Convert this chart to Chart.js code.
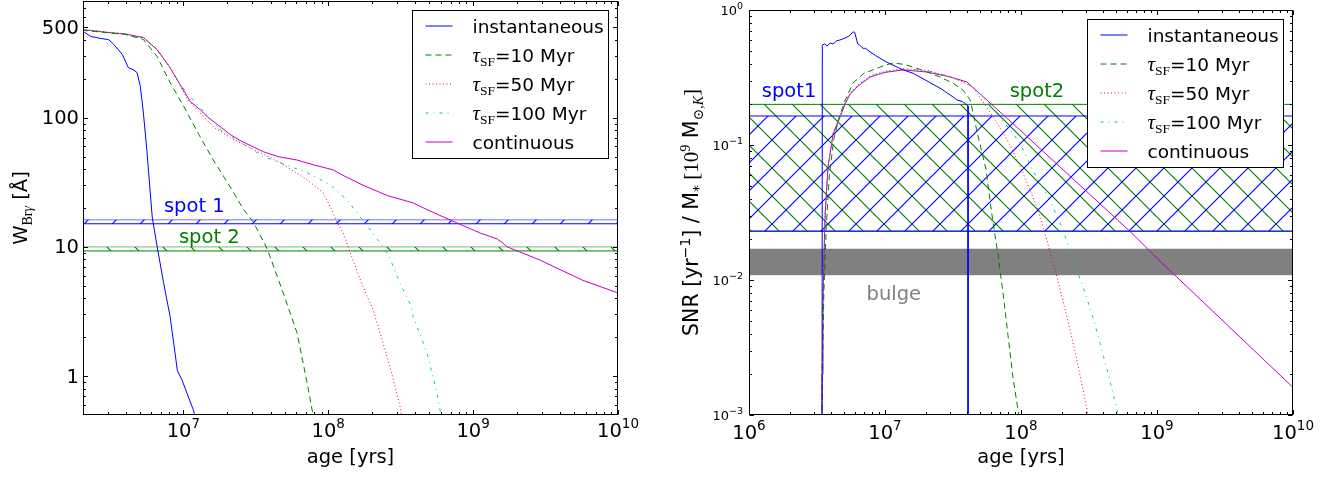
<!DOCTYPE html>
<html>
<head>
<meta charset="utf-8">
<script src="https://cdn.jsdelivr.net/npm/chart.js@4.4.0/dist/chart.umd.min.js"></script>
<style>
  body { margin: 0; background: #fff; width: 1338px; height: 479px; overflow: hidden; position: relative; }
  canvas { position: absolute; top: 0; }
</style>
</head>
<body>
<canvas id="left" width="660" height="479" style="left:0"></canvas>
<canvas id="right" width="678" height="479" style="left:660px"></canvas>
<script>
// ---------- left panel: W_Brgamma [A] vs age ----------
const instAgeW = [2.0e6, 2.3e6, 2.7e6, 3.05e6, 3.3e6, 3.56e6, 3.8e6, 4.17e6, 4.5e6, 4.8e6, 5.05e6, 5.3e6, 5.6e6, 6.1e6, 6.6e6, 7.3e6, 8.1e6, 9.1e6, 9.8e6, 1.17e7, 1.25e7];
const instW    = [470, 425, 410, 402, 370, 336, 307, 244, 236, 223, 174, 109, 56, 17, 10, 5.3, 2.9, 1.1, 0.93, 0.55, 0.42];
const tau10AgeW = [2.0e6, 3e6, 4e6, 5.3e6, 6.6e6, 8.1e6, 1.0e7, 1.28e7, 1.61e7, 2.11e7, 2.6e7, 3.04e7, 3.8e7, 4.89e7, 6.1e7, 7.16e7, 8.0e7];
const tau10W    = [475, 455, 440, 403, 297, 187, 124, 74, 47, 29, 19.5, 15.6, 9.6, 4.4, 2.15, 0.88, 0.45];
const tau50AgeW = [2.0e6, 3e6, 4e6, 5.3e6, 6.6e6, 8.1e6, 9.5e6, 1.07e7, 1.61e7, 2.11e7, 2.76e7, 4.67e7, 7.16e7, 9.24e7, 1.08e8, 1.15e8, 1.27e8, 1.42e8, 1.74e8, 2.04e8, 2.28e8, 2.68e8, 3.14e8, 3.25e8];
const tau50W    = [481, 460, 445, 417, 336, 244, 178, 138, 85, 70, 60, 44.8, 33, 26.2, 18.4, 15.6, 12.8, 9.0, 4.9, 3.25, 2.15, 1.17, 0.575, 0.45];
const tau100AgeW = [2.0e6, 3e6, 4e6, 5.3e6, 6.6e6, 8.1e6, 9.5e6, 1.12e7, 1.8e7, 3.57e7, 7.16e7, 1.03e8, 1.35e8, 1.66e8, 2.18e8, 2.45e8, 2.68e8, 3.14e8, 3.68e8, 3.86e8, 4.82e8, 5.63e8, 6.1e8];
const tau100W    = [481, 460, 445, 417, 336, 244, 180, 145, 80.7, 50, 37.5, 30.3, 23.1, 17.1, 11.5, 9.6, 8.0, 5.2, 3.6, 2.9, 1.5, 0.74, 0.45];
const contAgeW = [2.0e6, 3e6, 4e6, 5.3e6, 6.6e6, 8.1e6, 9.5e6, 1.12e7, 1.31e7, 1.46e7, 2.11e7, 2.5e7, 3.57e7, 4.5e7, 6.1e7, 8e7, 1.08e8, 1.25e8, 1.74e8, 2.55e8, 3.86e8, 4.82e8, 6.9e8, 1.12e9, 1.47e9, 1.6e9, 1.72e9, 2.9e9, 5.74e9, 1e10];
const contW    = [481, 456, 443, 417, 336, 244, 180, 133, 115, 102, 74, 66, 54.5, 50, 47, 43, 39.5, 36, 30, 25, 21.9, 19.4, 16.2, 12.8, 11.5, 10.7, 10, 7.9, 5.5, 4.4];
const spot1W = [15.1, 16.2];
const spot2W = [9.3, 10.0];
const wTicks = [1, 10, 100, 500];
const wTickLabels = ['1', '10', '100', '500'];
const ageTicksW = [1e7, 1e8, 1e9, 1e10];
const ageExpW = ['7', '8', '9', '10'];

// ---------- right panel: SNR per unit mass vs age ----------
const instAgeS = [3.44e6, 3.46e6, 3.6e6, 3.75e6, 3.95e6, 4.15e6, 4.4e6, 4.67e6, 4.9e6, 5.26e6, 5.53e6, 5.82e6, 6.0e6, 6.3e6, 6.5e6, 6.9e6, 7.2e6, 7.76e6, 8.5e6, 1.035e7, 1.36e7, 1.61e7, 2.14e7, 2.6e7, 3.16e7, 3.39e7, 3.7e7, 4.08e7, 4.08e7];
const instS    = [1e-4, 0.55, 0.56, 0.54, 0.57, 0.56, 0.59, 0.60, 0.61, 0.63, 0.65, 0.69, 0.68, 0.56, 0.55, 0.52, 0.52, 0.49, 0.46, 0.41, 0.36, 0.34, 0.29, 0.26, 0.227, 0.215, 0.21, 0.195, 1e-4];
const tau10AgeS = [3.40e6, 3.46e6, 3.55e6, 3.7e6, 3.9e6, 4.2e6, 4.6e6, 5.1e6, 5.82e6, 7.0e6, 8.16e6, 1.0e7, 1.146e7, 1.4e7, 1.61e7, 2.0e7, 2.54e7, 3.2e7, 3.75e7, 4.22e7, 4.44e7, 4.8e7, 5.53e7, 6.13e7, 6.78e7, 7.38e7, 8.02e7, 8.73e7, 9.5e7, 1.02e8];
const tau10S    = [1e-4, 0.002, 0.008, 0.025, 0.06, 0.11, 0.16, 0.215, 0.288, 0.34, 0.36, 0.39, 0.405, 0.395, 0.378, 0.35, 0.319, 0.285, 0.255, 0.216, 0.173, 0.12, 0.066, 0.0298, 0.0153, 0.008, 0.0039, 0.0019, 0.00109, 0.0007];
const tau50AgeS = [3.40e6, 3.45e6, 3.5e6, 3.62e6, 3.81e6, 4.15e6, 4.67e6, 5.08e6, 5.5e6, 6.22e6, 7.76e6, 1.0e7, 1.36e7, 2.04e7, 3.0e7, 3.8e7, 4.4e7, 5.0e7, 5.9e7, 7.0e7, 8.3e7, 1.035e8, 1.31e8, 1.55e8, 1.84e8, 2.18e8, 2.58e8, 3.06e8, 3.3e8];
const tau50S    = [1e-4, 0.002, 0.007, 0.029, 0.069, 0.122, 0.165, 0.205, 0.24, 0.275, 0.325, 0.352, 0.368, 0.357, 0.32, 0.29, 0.27, 0.225, 0.175, 0.135, 0.1, 0.062, 0.0347, 0.0198, 0.0105, 0.0053, 0.00255, 0.00109, 0.0007];
const tau100AgeS = [3.40e6, 3.45e6, 3.5e6, 3.62e6, 3.81e6, 4.15e6, 4.67e6, 5.08e6, 5.5e6, 6.22e6, 7.76e6, 1.0e7, 1.36e7, 2.04e7, 3.0e7, 4.0e7, 4.8e7, 5.6e7, 7.0e7, 8.3e7, 9.84e7, 1.22e8, 1.63e8, 2.04e8, 2.41e8, 2.86e8, 3.38e8, 3.81e8, 4.36e8, 5.08e8, 5.5e8];
const tau100S    = [1e-4, 0.002, 0.007, 0.029, 0.069, 0.121, 0.163, 0.203, 0.238, 0.272, 0.322, 0.348, 0.364, 0.354, 0.322, 0.287, 0.25, 0.21, 0.16, 0.13, 0.103, 0.065, 0.039, 0.0235, 0.0141, 0.0089, 0.0053, 0.0034, 0.00205, 0.00109, 0.0007];
const contAgeS = [3.40e6, 3.45e6, 3.5e6, 3.62e6, 3.81e6, 4.15e6, 4.67e6, 5.08e6, 5.5e6, 6.22e6, 7.76e6, 1.0e7, 1.36e7, 2.04e7, 3.0e7, 4.0e7, 1e8, 6.3e8, 1e9, 1e10];
const contS    = [1e-4, 0.002, 0.007, 0.029, 0.069, 0.12, 0.161, 0.2, 0.235, 0.269, 0.319, 0.345, 0.36, 0.347, 0.32, 0.293, 0.127, 0.023, 0.0145, 0.0016];
const spot1S = [0.023, 0.164];
const spot2S = [0.023, 0.2];
const bulgeS = [0.0109, 0.017];
const snrTicks = [1e-3, 1e-2, 1e-1, 1];
const snrExp = ['\u22123', '\u22122', '\u22121', '0'];
const ageTicksS = [1e6, 1e7, 1e8, 1e9, 1e10];
const ageExpS = ['6', '7', '8', '9', '10'];

// ---------- series look ----------
const seriesNames = ['instantaneous', 'τSF=10 Myr', 'τSF=50 Myr', 'τSF=100 Myr', 'continuous'];
const tauValues = [null, 10, 50, 100, null];
const COLORS = ['rgb(0,0,255)', 'rgb(0,128,0)', 'rgb(255,0,0)', 'rgb(0,191,191)', 'rgb(191,0,191)'];
const DASHES = [[], [6, 4], [1, 2.5], [3, 5, 1, 5], []];
const BLUE = 'rgb(0,0,255)', GREEN = 'rgb(0,128,0)', GRAY = 'rgb(128,128,128)';

const SANS = '"DejaVu Sans", sans-serif';
const SERIF = '"Liberation Serif", "DejaVu Serif", serif';
const F = (px, fam = SANS, style = '') => `${style} ${px}px ${fam}`.trim();

const pts = (ages, vals) => ages.map((a, i) => ({ x: a, y: vals[i] }));

function hatch(ctx, color, dir) {
  const s = 28;
  const c = document.createElement('canvas');
  c.width = c.height = s;
  const g = c.getContext('2d');
  g.strokeStyle = color;
  g.lineWidth = 1.15;
  g.beginPath();
  if (dir === '/') {
    g.moveTo(-2, s + 2); g.lineTo(s + 2, -2);
    g.moveTo(-2, 2); g.lineTo(2, -2);
    g.moveTo(s - 2, s + 2); g.lineTo(s + 2, s - 2);
  } else {
    g.moveTo(-2, -2); g.lineTo(s + 2, s + 2);
    g.moveTo(s - 2, -2); g.lineTo(s + 2, 2);
    g.moveTo(-2, s - 2); g.lineTo(2, s + 2);
  }
  g.stroke();
  return ctx.createPattern(c, 'repeat');
}

// band = top line filled down to bottom line
function band(range, edgeTop, edgeBot, bg) {
  const base = { borderWidth: 1, pointRadius: 0, tension: 0 };
  return [
    { ...base, data: [{ x: 1e5, y: range[1] }, { x: 1e11, y: range[1] }], borderColor: edgeTop, backgroundColor: bg, fill: '+1' },
    { ...base, data: [{ x: 1e5, y: range[0] }, { x: 1e11, y: range[0] }], borderColor: edgeBot, fill: false }
  ];
}

function curves(sets) {
  return sets.map((d, i) => ({
    label: seriesNames[i],
    data: pts(d[0], d[1]),
    borderColor: COLORS[i],
    borderDash: DASHES[i],
    borderWidth: 1,
    pointRadius: 0,
    fill: false,
    tension: 0
  }));
}

function drawRich(ctx, parts, x, y, align, color) {
  let w = 0;
  parts.forEach(p => { ctx.font = p.f; w += ctx.measureText(p.t).width; });
  let cx = align === 'center' ? x - w / 2 : align === 'right' ? x - w : x;
  ctx.textAlign = 'left';
  ctx.textBaseline = 'alphabetic';
  parts.forEach(p => {
    ctx.font = p.f;
    ctx.fillStyle = p.c || color || '#000';
    ctx.fillText(p.t, cx, y + (p.dy || 0));
    cx += ctx.measureText(p.t).width;
  });
}

function legendParts(i) {
  if (tauValues[i] == null) return [{ t: seriesNames[i], f: F(18.5) }];
  return [
    { t: 'τ', f: F(21, SERIF, 'italic') },
    { t: 'SF', f: F(13.5, SERIF), dy: 4 },
    { t: '=' + tauValues[i] + ' Myr', f: F(18.5) }
  ];
}

function logMinors(min, max) {
  const res = [];
  for (let d = Math.floor(Math.log10(min)); d <= Math.ceil(Math.log10(max)); d++) {
    for (let k = 2; k <= 9; k++) {
      const v = k * Math.pow(10, d);
      if (v > min && v < max) res.push(v);
    }
  }
  return res;
}

function makeDecor(cfg) {
  return {
    id: 'decor',
    afterDatasetsDraw(chart) {
      const { ctx, chartArea: ca, scales: { x, y } } = chart;
      ctx.save();

      // legend box
      const bw = 196, bh = 148;
      const bl = ca.right - 9.5 - bw, bt = ca.top + 9.5;
      ctx.fillStyle = '#fff';
      ctx.fillRect(bl, bt, bw, bh);
      ctx.strokeStyle = '#000';
      ctx.lineWidth = 1;
      ctx.strokeRect(bl, bt, bw, bh);
      seriesNames.forEach((n, i) => {
        const ly = bt + 15.5 + 29 * i;
        ctx.beginPath();
        ctx.strokeStyle = COLORS[i];
        ctx.setLineDash(DASHES[i]);
        ctx.moveTo(bl + 13, ly);
        ctx.lineTo(bl + 40, ly);
        ctx.stroke();
        ctx.setLineDash([]);
        drawRich(ctx, legendParts(i), bl + 60, ly + 6.5, 'left', '#000');
      });

      // text labels on the bands
      cfg.texts.forEach(tx => {
        drawRich(ctx, [{ t: tx.t, f: F(19.5) }], x.getPixelForValue(tx.x), y.getPixelForValue(tx.y), 'center', tx.c);
      });

      // frame
      const L = Math.round(ca.left) + 0.5, R = Math.round(ca.right) - 0.5;
      const T = Math.round(ca.top) + 0.5, B = Math.round(ca.bottom) - 0.5;
      ctx.strokeStyle = '#000';
      ctx.lineWidth = 1;
      ctx.strokeRect(L, T, R - L, B - T);

      // inward ticks on all four sides
      ctx.beginPath();
      const xt = (vals, len) => vals.forEach(v => {
        const px = Math.round(x.getPixelForValue(v)) + 0.5;
        ctx.moveTo(px, B); ctx.lineTo(px, B - len);
        ctx.moveTo(px, T); ctx.lineTo(px, T + len);
      });
      const yt = (vals, len) => vals.forEach(v => {
        const py = Math.round(y.getPixelForValue(v)) + 0.5;
        ctx.moveTo(L, py); ctx.lineTo(L + len, py);
        ctx.moveTo(R, py); ctx.lineTo(R - len, py);
      });
      xt(cfg.xMajor, 4.5); xt(logMinors(x.min, x.max), 2.5);
      yt(cfg.yMajor, 4.5); yt(logMinors(y.min, y.max), 2.5);
      ctx.stroke();

      // tick labels
      cfg.xMajor.forEach((v, i) => {
        drawRich(ctx, cfg.xLabels[i], x.getPixelForValue(v), cfg.xLabelY, 'center', '#000');
      });
      cfg.yMajor.forEach((v, i) => {
        drawRich(ctx, cfg.yLabels[i], cfg.yLabelX, y.getPixelForValue(v) + cfg.yLabelDy, 'right', '#000');
      });

      // axis titles
      drawRich(ctx, [{ t: 'age [yrs]', f: F(19.5) }], (ca.left + ca.right) / 2, 463, 'center', '#000');
      ctx.save();
      ctx.translate(cfg.yTitleX, (ca.top + ca.bottom) / 2);
      ctx.rotate(-Math.PI / 2);
      drawRich(ctx, cfg.yTitle, 0, 0, 'center', '#000');
      ctx.restore();

      ctx.restore();
    }
  };
}

function makeChart(id, datasets, lim, pad, yAxisW, decorCfg) {
  return new Chart(document.getElementById(id), {
    type: 'line',
    data: { datasets },
    options: {
      responsive: false,
      animation: false,
      devicePixelRatio: 1,
      layout: { padding: pad },
      plugins: { legend: { display: false }, tooltip: { enabled: false } },
      scales: {
        x: {
          type: 'logarithmic', min: lim[0], max: lim[1], bounds: 'data',
          ticks: { display: false }, grid: { display: false, drawTicks: false }, border: { display: false },
          afterFit: s => { s.height = 64; }
        },
        y: {
          type: 'logarithmic', min: lim[2], max: lim[3],
          ticks: { display: false }, grid: { display: false, drawTicks: false }, border: { display: false },
          afterFit: s => { s.width = yAxisW; }
        }
      }
    },
    plugins: [makeDecor(decorCfg)]
  });
}

const expLabel = (e, big, small, dy) => [{ t: '10', f: F(big) }, { t: e, f: F(small), dy }];

// left chart
const lctx = document.getElementById('left').getContext('2d');
const leftSets = curves([[instAgeW, instW], [tau10AgeW, tau10W], [tau50AgeW, tau50W], [tau100AgeW, tau100W], [contAgeW, contW]])
  .concat(band(spot1W, 'rgba(0,0,255,0.55)', BLUE, hatch(lctx, BLUE, '/')))
  .concat(band(spot2W, 'rgba(0,128,0,0.55)', GREEN, hatch(lctx, GREEN, '\\')));
makeChart('left', leftSets, [2.03e6, 1e10, 0.5, 800], { left: 0, top: 1, right: 42, bottom: 0 }, 83, {
  xMajor: ageTicksW,
  xLabels: ageExpW.map(e => expLabel(e, 19.5, 13.5, -9)),
  xLabelY: 437,
  yMajor: wTicks,
  yLabels: wTickLabels.map(t => [{ t, f: F(19.5) }]),
  yLabelX: 79,
  yLabelDy: 6.5,
  yTitleX: 27,
  yTitle: [
    { t: 'W', f: F(19.5) },
    { t: 'Br', f: F(14, SERIF), dy: 5 },
    { t: 'γ', f: F(14, SERIF, 'italic'), dy: 5 },
    { t: ' [Å]', f: F(19.5) }
  ],
  texts: [
    { t: 'spot 1', x: 1.19e7, y: 18.7, c: BLUE },
    { t: 'spot 2', x: 1.51e7, y: 10.7, c: GREEN }
  ]
});

// right chart
const rctx = document.getElementById('right').getContext('2d');
const rightSets = curves([[instAgeS, instS], [tau10AgeS, tau10S], [tau50AgeS, tau50S], [tau100AgeS, tau100S], [contAgeS, contS]])
  .concat(band(spot1S, BLUE, BLUE, hatch(rctx, BLUE, '/')))
  .concat(band(spot2S, GREEN, GREEN, hatch(rctx, GREEN, '\\')))
  .concat(band(bulgeS, 'rgba(128,128,128,0.45)', 'rgba(128,128,128,0.45)', GRAY));
makeChart('right', rightSets, [1e6, 1e10, 1e-3, 1], { left: 0, top: 10, right: 45, bottom: 0 }, 89, {
  xMajor: ageTicksS,
  xLabels: ageExpS.map(e => expLabel(e, 19.5, 13.5, -9)),
  xLabelY: 439,
  yMajor: snrTicks,
  yLabels: snrExp.map(e => expLabel(e, 13, 9.5, -6)),
  yLabelX: 83,
  yLabelDy: 5,
  yTitleX: 38,
  yTitle: [
    { t: 'SNR [yr', f: F(20.5) },
    { t: '\u22121', f: F(14), dy: -8 },
    { t: '] / M', f: F(20.5) },
    { t: '*', f: F(14), dy: 5 },
    { t: ' [10', f: F(21, SERIF) },
    { t: '9', f: F(14, SERIF), dy: -8 },
    { t: ' M', f: F(20.5) },
    { t: '⊙,', f: F(14, SERIF), dy: 5 },
    { t: 'K', f: F(14, SERIF, 'italic'), dy: 5 },
    { t: ']', f: F(21, SERIF) }
  ],
  texts: [
    { t: 'spot1', x: 1.97e6, y: 0.227, c: BLUE },
    { t: 'spot2', x: 1.31e8, y: 0.227, c: GREEN },
    { t: 'bulge', x: 1.16e7, y: 0.0071, c: GRAY }
  ]
});
</script>
</body>
</html>
